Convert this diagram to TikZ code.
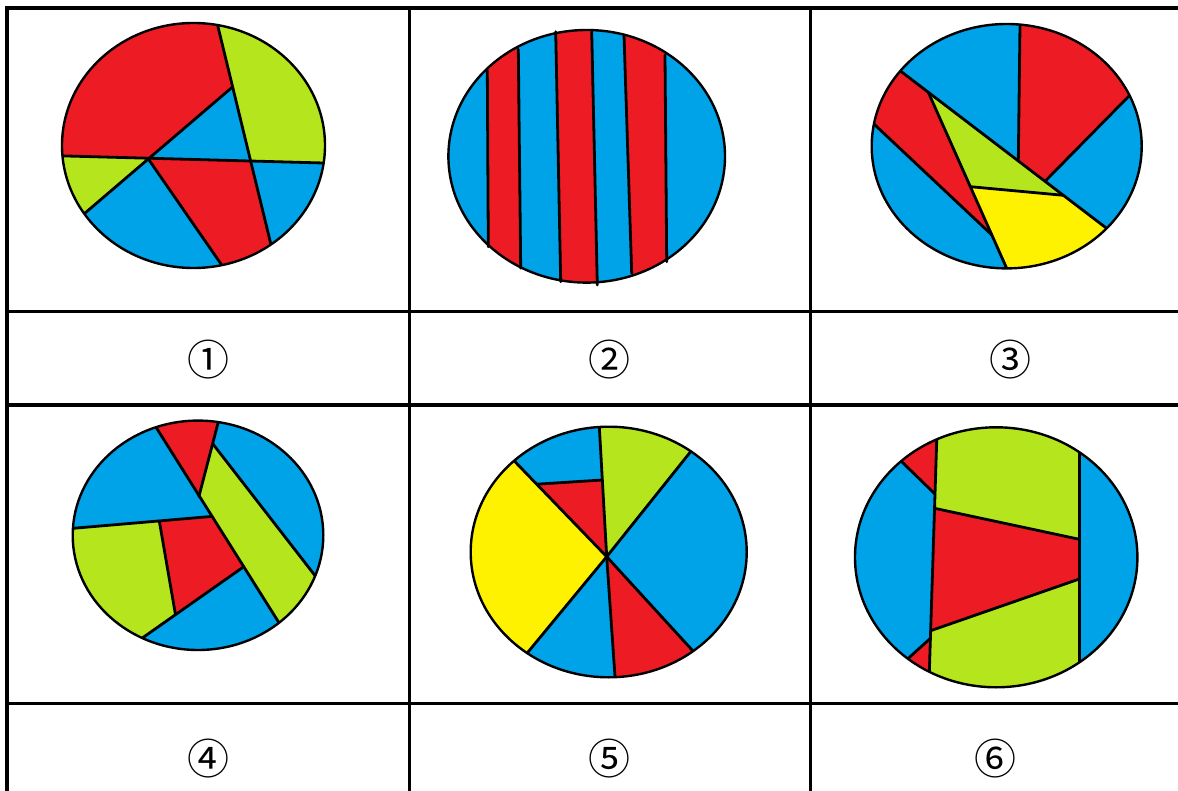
\documentclass[tikz,border=0pt]{standalone}
\usepackage{fontspec}
\newfontfamily\cjk{Noto Sans CJK SC}
\usepackage{tikz}
\definecolor{pnred}{RGB}{237,28,36}
\definecolor{pnblue}{RGB}{0,162,232}
\definecolor{pngreen}{RGB}{181,230,29}
\definecolor{pnyellow}{RGB}{255,242,0}
\usetikzlibrary{positioning}
\tikzset{
  cut/.style={line width=2.8pt,line cap=round,line join=round},
  rim/.style={line width=2.4pt},
  rule/.style={line width=3.6pt},
  numlabel/.style={font=\cjk\fontsize{42}{44}\selectfont,inner sep=0pt}
}

\begin{document}
\begin{tikzpicture}[x=1pt,y=-1pt]
  \useasboundingbox (0,0) rectangle (1178,791);
  \fill[white] (0,0) rectangle (1178,791);

  % picture 1
  \begin{scope}
    \clip (193.5,145.5) ellipse [x radius=131.5,y radius=122.5];
    \fill[pnblue] (0,0) rectangle (409,310);
    \fill[pnred] (30,155)--(30,0)--(211.5,0)--(232.5,87)--(148,158.5)--cycle;
    \fill[pngreen] (211.5,0)--(360,0)--(360,164)--(250.6,161)--cycle;
    \fill[pngreen] (30,155)--(148,158.5)--(50,243)--(30,243)--cycle;
    \fill[pnred] (148,158.5)--(250.6,161)--(282,290)--(239,290)--cycle;
    \draw[cut] (30,155)--(360,164);
    \draw[cut] (211.5,0)--(282,290);
    \draw[cut] (232.5,87)--(50,243);
    \draw[cut] (148,158.5)--(239,290);
  \end{scope}
  \draw[rim] (193.5,145.5) ellipse [x radius=131.5,y radius=122.5];

  % picture 2
  \begin{scope}
    \clip (586.7,156.3) ellipse [x radius=138.3,y radius=126.3];
    \fill[pnblue] (409,0) rectangle (810,310);
    \fill[pnred] (486.9,0)--(517.8,0)--(521.2,310)--(488.7,310)--cycle;
    \fill[pnred] (555.1,0)--(591,0)--(597.9,310)--(561.3,310)--cycle;
    \fill[pnred] (622.9,0)--(664.5,0)--(667.1,310)--(632.9,310)--cycle;
  \end{scope}
  \draw[cut] (487.3,70)--(488.3,246.7);
  \draw[cut] (518.3,49.3)--(520.7,268.3);
  \draw[cut] (555.7,31.7)--(560.7,281.7);
  \draw[cut] (591.7,31.7)--(597.3,285);
  \draw[cut] (624,35)--(631.7,273.3);
  \draw[cut] (665,55)--(666.7,261.7);
  \draw[rim] (586.7,156.3) ellipse [x radius=138.3,y radius=126.3];

  % picture 3
  \begin{scope}
    \clip (1006.7,146.2) ellipse [x radius=135,y radius=122.2];
    \fill[pnblue] (810,0) rectangle (1178,310);
    \fill[pnred] (1020.3,0)--(1018.3,161)--(1045,181.3)--(1160,64.5)--(1160,0)--cycle;
    \fill[pnred] (870,47.8)--(928.3,92.3)--(991.9,235)--(850,101.5)--(850,47.8)--cycle;
    \fill[pngreen] (928.3,92.3)--(1063.3,195.3)--(970.4,186.7)--cycle;
    \fill[pnyellow] (970.4,186.7)--(1063.3,195.3)--(1180,284.3)--(1180,300)--(1020.8,300)--cycle;
    \draw[cut] (870,47.8)--(1180,284.3);
    \draw[cut] (1020.3,0)--(1018.3,161);
    \draw[cut] (1160,64.5)--(1045,181.3);
    \draw[cut] (928.3,92.3)--(1020.8,300);
    \draw[cut] (850,101.5)--(991.9,235);
    \draw[cut] (970.4,186.7)--(1063.3,195.3);
  \end{scope}
  \draw[rim] (1006.7,146.2) ellipse [x radius=135,y radius=122.2];

  % picture 4
  \begin{scope}
    \clip (198,535.3) ellipse [x radius=125.3,y radius=114.7];
    \fill[pnblue] (0,405) rectangle (409,703);
    \fill[pnred] (138.9,400)--(224,400)--(198.9,496.5)--cycle;
    \fill[pngreen] (213,444.1)--(198.9,496.5)--(315,680)--(396,680)--cycle;
    \fill[pngreen] (50,530.3)--(159.3,521)--(175.5,614.7)--(100,667.7)--(50,667.7)--cycle;
    \fill[pnred] (159.3,521)--(212.1,516.4)--(243.8,566.7)--(175.5,614.7)--cycle;
    \draw[cut] (138.9,400)--(315,680);
    \draw[cut] (224,400)--(198.9,496.5);
    \draw[cut] (213,444.1)--(396,680);
    \draw[cut] (50,530.3)--(212.1,516.4);
    \draw[cut] (159.3,521)--(175.5,614.7);
    \draw[cut] (243.8,566.7)--(100,667.7);
  \end{scope}
  \draw[rim] (198,535.3) ellipse [x radius=125.3,y radius=114.7];

  % picture 5
  \begin{scope}
    \clip (608.7,552) ellipse [x radius=138,y radius=125.3];
    \fill[pnblue] (409,405) rectangle (810,703);
    \fill[pngreen] (606.7,556.7)--(591.9,296.7)--(771.9,349.9)--cycle;
    \fill[pnred] (606.7,556.7)--(778.7,744.7)--(623.3,796.7)--cycle;
    \fill[pnyellow] (606.7,556.7)--(449.9,746.7)--(423.3,366.7)--cycle;
    \fill[pnred] (606.7,556.7)--(536.7,484.2)--(602.3,480)--cycle;
    \foreach \ex/\ey in {591.9/296.7,771.9/349.9,778.7/744.7,623.3/796.7,449.9/746.7,423.3/366.7}
      \draw[cut] (606.7,556.7)--(\ex,\ey);
    \draw[cut] (536.7,484.2)--(602.3,480);
  \end{scope}
  \draw[rim] (608.7,552) ellipse [x radius=138,y radius=125.3];

  % picture 6
  \begin{scope}
    \clip (996.2,557.3) ellipse [x radius=141.2,y radius=130];
    \fill[pnblue] (810,405) rectangle (1178,703);
    \fill[pnred] (870,431)--(935,494)--(938,400)--(870,400)--cycle;
    \fill[pnred] (930.4,638.3)--(880,684)--(880,720)--(927.8,720)--cycle;
    \fill[pngreen] (938,400)--(1079.3,400)--(1079.3,720)--(927.8,720)--cycle;
    \fill[pnred] (934.5,508.3)--(1079.3,539.3)--(1079.3,579)--(930.6,630.7)--cycle;
    \draw[cut] (938,400)--(927.8,720);
    \draw[cut] (1079.3,400)--(1079.3,720);
    \draw[cut] (870,431)--(935,494);
    \draw[cut] (880,684)--(930.4,638.3);
    \draw[cut] (934.5,508.3)--(1079.3,539.3);
    \draw[cut] (930.6,630.7)--(1079.3,579);
  \end{scope}
  \draw[rim] (996.2,557.3) ellipse [x radius=141.2,y radius=130];

  \draw[rule] (7,8.3)--(1178,8.3);
  \draw[rule] (7,311.5)--(1178,311.5);
  \draw[rule] (7,405)--(1178,405);
  \draw[rule] (7,703.3)--(1178,703.3);
  \draw[rule] (7,6.5)--(7,791);
  \draw[rule] (409.5,6.5)--(409.5,791);
  \draw[rule] (810.5,6.5)--(810.5,791);

  \node[numlabel] (lab1) at (208.5,360) {①};
  \node[numlabel] (lab2) at (609.5,360) {②};
  \node[numlabel] (lab3) at (1010,360) {③};
  \node[numlabel] (lab4) at (208.5,759) {④};
  \node[numlabel] (lab5) at (609.5,759) {⑤};
  \node[numlabel] (lab6) at (995,759) {⑥};
\end{tikzpicture}
\end{document}
